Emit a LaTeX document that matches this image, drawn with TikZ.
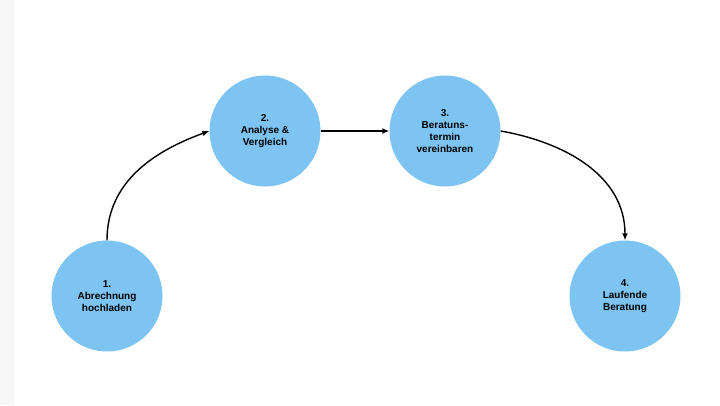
\documentclass[tikz,border=0pt]{standalone}
\usepackage{fontspec}
\setmainfont{Liberation Sans}
\usetikzlibrary{arrows.meta}
\definecolor{circ}{HTML}{7DC4F2}
\begin{document}
\begin{tikzpicture}[x=1pt,y=-1pt,
  stepnode/.style={circle,fill=circ,minimum size=111pt,inner sep=0pt,align=center,font=\bfseries\fontsize{10}{12}\selectfont},
  arr/.style={-{Latex[length=7pt,width=6pt]},line width=1.4pt}]
\useasboundingbox (0,0) rectangle (720,405);
\fill[gray!6] (0,0) rectangle (14,405);
\node[stepnode] (n1) at (107,296) {1.\\Abrechnung\\hochladen};
\node[stepnode] (n2) at (265,131) {2.\\Analyse \&\\Vergleich};
\node[stepnode] (n3) at (445,131) {3.\\Beratuns-\\termin\\vereinbaren};
\node[stepnode] (n4) at (625,296) {4.\\Laufende\\Beratung};
\draw[arr] (n1.north) to[out=90,in=200] (n2.west);
\draw[arr] (n2.east) -- (n3.west);
\draw[arr] (n3.east) to[out=-10,in=90] (n4.north);
\end{tikzpicture}
\end{document}
